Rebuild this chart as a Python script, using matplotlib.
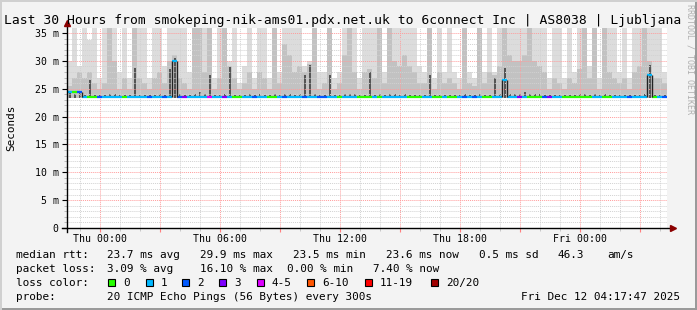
import numpy as np
import matplotlib
matplotlib.use("Agg")
import matplotlib.pyplot as plt
from matplotlib.patches import Rectangle
from matplotlib.ticker import MultipleLocator, FuncFormatter

# 30 hours, one sample every 15 minutes, hours relative to Thu 00:00
t_start = -1.65
step_h = 0.25

# smoke envelope tops (ms): light / medium / dark grey
smoke_light = [30, 36, 29, 36, 33.8, 36, 27, 36, 36, 36,
               28, 36, 27, 36, 36, 36, 27, 36, 36, 29,
               36, 36, 36, 36, 28, 36, 36, 36, 36, 27,
               36, 36, 30, 36, 26, 29, 36, 27, 36, 36,
               27, 36, 28, 36, 36, 36, 36, 29, 30, 36,
               28, 28, 36, 27, 28, 36, 36, 36, 27, 36,
               36, 36, 36, 28, 36, 36, 36, 36, 36, 36,
               29, 28, 36, 27, 36, 28, 36, 28, 27, 36,
               28, 27, 36, 28, 36, 28, 36, 36, 36, 36,
               36, 36, 36, 36, 36, 36, 27, 36, 36, 27,
               36, 28, 36, 36, 29, 36, 27, 36, 36, 36,
               28, 36, 27, 36, 36, 36, 36, 36, 36, 28]
smoke_mid = [25.5, 27, 28, 27, 28, 26, 25, 26, 36, 30,
             25, 27, 25, 36, 27, 26, 25, 27, 28, 26,
             30, 31, 27, 26, 25, 36, 36, 28, 36, 25,
             27, 36, 29, 27, 25, 26, 28, 25, 28, 27,
             25, 36, 26, 33, 31, 28, 29, 28, 29.5, 36,
             25, 26, 36, 25, 26, 31, 36, 28, 25, 28,
             28.5, 27, 36, 26, 36, 30, 29, 31, 29, 28,
             26, 26, 36, 25, 28, 26, 27, 26, 25, 36,
             26, 25.5, 36, 26, 28, 27.5, 29, 36, 31, 30,
             30, 31, 36, 30, 29, 28, 25, 27, 26, 25,
             27, 26, 28.5, 36, 27, 36, 25, 36, 28, 27,
             26, 27, 25, 28, 29, 36, 30, 27, 27, 26]
smoke_dark = [24.2, 24, 24.5, 23.9, 26.5, 23.9, 23.9, 23.9, 24, 24,
              23.9, 23.9, 23.9, 28.7, 23.9, 23.9, 23.9, 23.9, 24, 23.9,
              28.5, 30.5, 24, 23.9, 23.9, 24, 24.5, 24, 27.5, 23.9,
              23.9, 24, 28.9, 23.9, 23.9, 23.9, 24, 23.9, 24, 23.9,
              23.9, 24, 23.9, 24, 24, 23.9, 24, 27.5, 29.3, 24,
              23.9, 23.9, 27.5, 23.9, 23.9, 24, 24, 24, 23.9, 23.9,
              28, 23.9, 24, 23.9, 24, 24, 23.9, 24, 23.9, 23.9,
              23.9, 23.9, 27.5, 23.9, 23.9, 23.9, 23.9, 23.9, 23.9, 24,
              23.9, 23.9, 24, 23.9, 23.9, 27, 24, 28.7, 24, 24,
              24, 24.5, 24, 24, 24, 23.9, 23.9, 23.9, 23.9, 23.9,
              23.9, 23.9, 24, 24, 23.9, 24, 23.9, 24, 23.9, 23.9,
              23.9, 23.9, 23.9, 23.9, 23.9, 24, 29.3, 23.9, 23.9, 23.9]
median_rtt = [24.5, 24.5, 24.4, 23.6, 23.6, 23.6, 23.6, 23.6, 23.6, 23.6,
              23.6, 23.6, 23.6, 23.6, 23.6, 23.6, 23.6, 23.6, 23.6, 23.6,
              23.6, 29.9, 23.6, 23.6, 23.6, 23.6, 23.6, 23.6, 23.6, 23.6,
              23.6, 23.6, 23.6, 23.6, 23.6, 23.6, 23.6, 23.6, 23.6, 23.6,
              23.6, 23.6, 23.6, 23.6, 23.6, 23.6, 23.6, 23.6, 23.6, 23.6,
              23.6, 23.6, 23.6, 23.6, 23.6, 23.6, 23.6, 23.6, 23.6, 23.6,
              23.6, 23.6, 23.6, 23.6, 23.6, 23.6, 23.6, 23.6, 23.6, 23.6,
              23.6, 23.6, 23.6, 23.6, 23.6, 23.6, 23.6, 23.6, 23.6, 23.6,
              23.6, 23.6, 23.6, 23.6, 23.6, 23.6, 23.6, 26.6, 23.6, 23.6,
              23.6, 23.6, 23.6, 23.6, 23.6, 23.6, 23.6, 23.6, 23.6, 23.6,
              23.6, 23.6, 23.6, 23.6, 23.6, 23.6, 23.6, 23.6, 23.6, 23.6,
              23.6, 23.6, 23.6, 23.6, 23.6, 23.6, 27.4, 23.6, 23.6, 23.6]
# index into loss_colors
loss_idx = [1, 0, 2, 1, 0, 0, 2, 1, 1, 1,
            1, 0, 1, 1, 1, 1, 2, 1, 1, 2,
            1, 1, 2, 3, 1, 1, 1, 1, 4, 1,
            1, 3, 1, 0, 0, 1, 1, 2, 1, 1,
            0, 0, 1, 2, 1, 1, 1, 2, 1, 1,
            2, 2, 1, 1, 0, 1, 1, 1, 0, 0,
            0, 1, 0, 1, 1, 1, 1, 1, 0, 0,
            0, 1, 1, 0, 0, 1, 0, 0, 1, 2,
            1, 2, 1, 0, 0, 1, 1, 1, 1, 1,
            3, 1, 0, 0, 0, 2, 3, 1, 1, 0,
            0, 0, 0, 0, 0, 1, 1, 0, 0, 1,
            1, 1, 2, 1, 1, 1, 1, 0, 1, 2]

loss_labels = ["0", "1", "2", "3", "4-5", "6-10", "11-19", "20/20"]
loss_colors = ["#26ff00", "#00b8ff", "#0059ff", "#7e00ff",
               "#dd00ff", "#ff5500", "#ff0000", "#a10000"]

time_labels = {0: "Thu 00:00", 6: "Thu 06:00", 12: "Thu 12:00",
               18: "Thu 18:00", 24: "Fri 00:00"}

title = "Last 30 Hours from smokeping-nik-ams01.pdx.net.uk to 6connect Inc | AS8038 | Ljubljana"
rtt_row = ["median rtt:", "23.7 ms avg", "29.9 ms max", "23.5 ms min",
           "23.6 ms now", "0.5 ms sd", "46.3", "am/s"]
loss_row = ["packet loss:", "3.09 % avg", "16.10 % max", "0.00 % min", "7.40 % now"]
probe_text = "20 ICMP Echo Pings (56 Bytes) every 300s"
stamp = "Fri Dec 12 04:17:47 2025"

W, H = 697, 310
MONO = "DejaVu Sans Mono"
plt.rcParams["font.family"] = MONO


def fx(x):
    return x / W


def fy(y):
    return 1 - y / H


fig = plt.figure(figsize=(W / 100, H / 100), dpi=100, facecolor="#f3f3f3")
ax = fig.add_axes([fx(67), 82 / H, 600 / W, 200 / H])
ax.set_facecolor("white")

n = len(median_rtt)
edges = t_start + step_h * np.arange(n + 1)
centers = edges[:-1] + step_h / 2
base = 23.4

for vals, col in ((smoke_light, "#dcdcdc"), (smoke_mid, "#c2c2c2")):
    v = np.append(vals, vals[-1])
    ax.fill_between(edges, base, v, step="post", color=col, lw=0, zorder=1)
# dark core of the smoke is narrow spikes
ax.bar(centers, np.array(smoke_dark) - base, bottom=base, width=0.1,
       color="#555555", lw=0, zorder=1.5)

# median line as steps, each step coloured by the loss of its sample
for i in range(n):
    c = loss_colors[loss_idx[i]]
    ax.hlines(median_rtt[i], edges[i], edges[i + 1], color=c, lw=1.6, zorder=3)
    if i > 0 and median_rtt[i] != median_rtt[i - 1]:
        ax.vlines(edges[i], median_rtt[i - 1], median_rtt[i], color="#222222", lw=1.0, zorder=3)

ax.set_xlim(edges[0], edges[-1])
ax.set_ylim(0, 35.9)

ax.xaxis.set_major_locator(MultipleLocator(3))
ax.xaxis.set_minor_locator(MultipleLocator(1))
ax.yaxis.set_major_locator(MultipleLocator(5))
ax.yaxis.set_minor_locator(MultipleLocator(1))
ax.xaxis.set_major_formatter(FuncFormatter(lambda v, p: time_labels.get(int(round(v)), "")))
ax.yaxis.set_major_formatter(FuncFormatter(lambda v, p: "0" if v == 0 else "%d m" % v))

ax.set_axisbelow(False)
ax.grid(which="minor", color="#d2d2d2", ls=(0, (1, 1)), lw=0.7)
ax.grid(which="major", color="#ff9c9c", ls=(0, (1, 1)), lw=0.7)
for gl in ax.get_xgridlines() + ax.get_ygridlines():
    gl.set_zorder(2)

ax.tick_params(axis="x", which="major", length=3, color="#ff8080", labelsize=7.1, pad=1.5)
ax.tick_params(axis="x", which="minor", length=2, color="#c0c0c0")
ax.tick_params(axis="y", which="major", length=3.5, color="black", labelsize=7.1, pad=2.5)
ax.tick_params(axis="y", which="minor", length=2, color="#b0b0b0")
for s in ax.spines.values():
    s.set_visible(False)

# axes with arrows
ax.plot([-0.008, 1.008], [0, 0], transform=ax.transAxes, color="black", lw=1, clip_on=False, zorder=5)
ax.plot([0, 0], [-0.02, 1.015], transform=ax.transAxes, color="black", lw=1, clip_on=False, zorder=5)
ax.plot(1.01, 0, marker=">", color="#8b0000", ms=4, transform=ax.transAxes, clip_on=False, zorder=6)
ax.plot(0, 1.025, marker="^", color="#8b0000", ms=4, transform=ax.transAxes, clip_on=False, zorder=6)

fig.text(fx(4), fy(24), title, fontsize=9.4, ha="left", va="baseline")
fig.text(fx(11), fy(128), "Seconds", fontsize=7.9, rotation=90, ha="center", va="center")
fig.text(fx(690), fy(4), "RRDTOOL / TOBI OETIKER", fontsize=6, rotation=-90,
         ha="center", va="top", color="#b0b0b0")

lsize = 7.9
for x, s in zip([16, 107, 200, 293, 386, 479, 558, 607], rtt_row):
    fig.text(fx(x), fy(258), s, fontsize=lsize, va="baseline")
for x, s in zip([16, 107, 200, 287, 373], loss_row):
    fig.text(fx(x), fy(272), s, fontsize=lsize, va="baseline")
fig.text(fx(16), fy(286), "loss color:", fontsize=lsize, va="baseline")
box_x = [108, 146, 182, 219, 257, 307, 365, 431]
for bx, lab, col in zip(box_x, loss_labels, loss_colors):
    fig.patches.append(Rectangle((fx(bx), fy(286)), 7 / W, 7 / H, transform=fig.transFigure,
                                 facecolor=col, edgecolor="black", lw=0.8))
    fig.text(fx(bx + 15), fy(286), lab, fontsize=lsize, va="baseline")
fig.text(fx(16), fy(300), "probe:", fontsize=lsize, va="baseline")
fig.text(fx(107), fy(300), probe_text, fontsize=lsize, va="baseline")
fig.text(fx(680), fy(300), stamp, fontsize=lsize, va="baseline", ha="right")

# frame of the image
fig.patches.append(Rectangle((0, 0), 1, 2 / H, transform=fig.transFigure, color="#9a9a9a", lw=0))
fig.patches.append(Rectangle((1 - 2 / W, 0), 2 / W, 1, transform=fig.transFigure, color="#9a9a9a", lw=0))
fig.patches.append(Rectangle((0, 1 - 2 / H), 1, 2 / H, transform=fig.transFigure, color="#d0d0d0", lw=0))
fig.patches.append(Rectangle((0, 0), 2 / W, 1, transform=fig.transFigure, color="#d0d0d0", lw=0))

fig.savefig("out.png", dpi=100, facecolor=fig.get_facecolor())
